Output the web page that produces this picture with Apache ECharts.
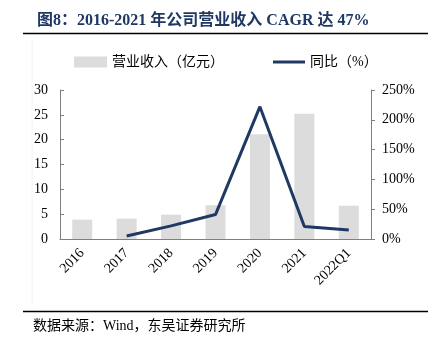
<!DOCTYPE html>
<html><head><meta charset="utf-8">
<script src="https://cdn.jsdelivr.net/npm/echarts@6/dist/echarts.min.js"></script>
<style>html,body{margin:0;padding:0;background:#fff}#c{width:438px;height:354px}</style>
</head><body><div id="c"></div>
<script>
const categories = ['2016','2017','2018','2019','2020','2021','2022Q1'];
const revenue = [3.9, 4.1, 4.9, 6.8, 21.1, 25.2, 6.7];
const yoy = [null, 5, 22, 41, 222, 21, 15];
const leftTicks = [0, 5, 10, 15, 20, 25, 30];
const rightTicks = [0, 50, 100, 150, 200, 250];
const titleText = '图8：2016-2021 年公司营业收入 CAGR 达 47%';
const sourceText = '数据来源：Wind，东吴证券研究所';

const chart = echarts.init(document.getElementById('c'));
const serif = '"Liberation Serif","Times New Roman",serif';
const cjk = '"Liberation Serif","Noto Sans CJK SC",sans-serif';
chart.setOption({
  animation: false,
  title: {text: titleText, left: 32, top: 8,
    textStyle: {fontSize: 16, fontWeight: 'bold', color: '#1f3864', fontFamily: '"Liberation Serif","Noto Sans CJK SC",serif'}},
  graphic: [
    {type: 'line', shape: {x1: 23, y1: 33.5, x2: 428, y2: 33.5}, style: {stroke: '#000', lineWidth: 1.5}},
    {type: 'line', shape: {x1: 32, y1: 40, x2: 32, y2: 305}, style: {stroke: '#f2f2f2', lineWidth: 1}},
    {type: 'line', shape: {x1: 23, y1: 311.5, x2: 428, y2: 311.5}, style: {stroke: '#000', lineWidth: 1.5}},
    {type: 'text', left: 33, top: 319, style: {text: sourceText, fontSize: 14, fill: '#000', fontFamily: cjk}}
  ],
  legend: [
    {top: 55, left: 74, padding: 0, itemWidth: 33, itemHeight: 11, itemGap: 4,
      textStyle: {fontSize: 14, color: '#000', fontFamily: cjk},
      data: [{name: '营业收入（亿元）', icon: 'rect'}]},
    {top: 55, left: 273, padding: 0, itemWidth: 32, itemHeight: 3, itemGap: 4,
      textStyle: {fontSize: 14, color: '#000', fontFamily: cjk},
      data: [{name: '同比（%）', icon: 'rect', itemStyle: {color: '#1f3864'}}]}
  ],
  grid: {left: 60, right: 67, top: 90, bottom: 115},
  xAxis: {type: 'category', data: categories,
    axisLine: {lineStyle: {color: '#7f7f7f'}},
    axisTick: {inside: true, length: 4, lineStyle: {color: '#7f7f7f'}},
    axisLabel: {rotate: 45, fontSize: 14, color: '#000', fontFamily: serif, interval: 0, margin: 12}},
  yAxis: [
    {type: 'value', min: 0, max: 30, interval: 5,
      axisLine: {show: true, lineStyle: {color: '#7f7f7f'}},
      axisTick: {show: true, inside: true, length: 4, lineStyle: {color: '#7f7f7f'}},
      splitLine: {show: false},
      axisLabel: {fontSize: 14, color: '#000', fontFamily: serif, margin: 12,
        formatter: v => leftTicks.includes(v) ? String(v) : ''}},
    {type: 'value', min: 0, max: 250, interval: 50,
      axisLine: {show: true, lineStyle: {color: '#7f7f7f'}},
      axisTick: {show: true, length: 4, lineStyle: {color: '#7f7f7f'}},
      splitLine: {show: false},
      axisLabel: {fontSize: 14, color: '#000', fontFamily: serif, margin: 11,
        formatter: v => rightTicks.includes(v) ? v + '%' : ''}}
  ],
  series: [
    {name: '营业收入（亿元）', type: 'bar', data: revenue, barWidth: 20,
      itemStyle: {color: '#dcdcdc'}},
    {name: '同比（%）', type: 'line', yAxisIndex: 1, data: yoy, symbol: 'none',
      lineStyle: {color: '#1f3864', width: 3}, itemStyle: {color: '#1f3864'}}
  ]
});
</script></body></html>
